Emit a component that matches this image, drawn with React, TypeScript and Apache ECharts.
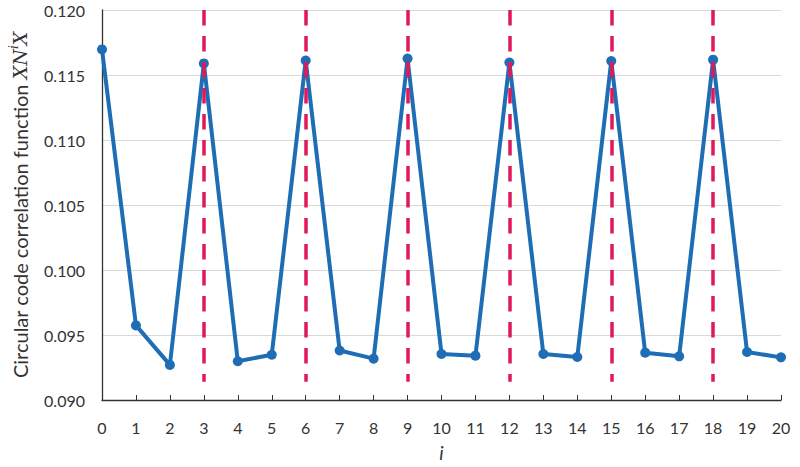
import React, { useEffect, useRef } from "react";
import * as echarts from "echarts";

const xValues = [0, 1, 2, 3, 4, 5, 6, 7, 8, 9, 10, 11, 12, 13, 14, 15, 16, 17, 18, 19, 20];
const corrValues = [
  0.11697, 0.09574, 0.0927, 0.11589, 0.09298, 0.09348, 0.11611, 0.09381, 0.09318, 0.11626,
  0.09354, 0.09341, 0.11596, 0.09354, 0.09331, 0.11608, 0.09364, 0.09336, 0.11618, 0.09369,
  0.09328,
];
const dividerX = [3, 6, 9, 12, 15, 18];
const dividerRange = [0.0914, 0.12];
const yTickMin = 0.09;
const yTickMax = 0.12;
const yTickStep = 0.005;

const FONT = "Lato";

export default function App() {
  const ref = useRef<HTMLDivElement>(null);
  useEffect(() => {
    if (!ref.current) return;
    const chart = echarts.init(ref.current, undefined, { renderer: "svg" });
    chart.setOption({
      animation: false,
      backgroundColor: "#ffffff",
      grid: { left: 97, right: 19, top: 10, bottom: 61 },
      xAxis: {
        type: "value",
        min: 0,
        max: 20,
        interval: 1,
        name: "i",
        nameLocation: "middle",
        nameGap: 43,
        nameTextStyle: { fontFamily: FONT, fontSize: 19, fontStyle: "italic", color: "#333" },
        axisLine: { show: true, lineStyle: { color: "#333", width: 1.3 } },
        axisTick: { show: true, inside: true, length: 5, lineStyle: { color: "#333" } },
        axisLabel: { fontFamily: FONT, fontSize: 16, color: "#333", margin: 19 },
        splitLine: { show: false },
      },
      yAxis: {
        type: "value",
        min: yTickMin,
        max: yTickMax,
        interval: yTickStep,
        name: "Circular code correlation function {m|X}{m|N}{s|i}{m|X}",
        nameLocation: "middle",
        nameGap: 70,
        nameTextStyle: {
          fontFamily: FONT,
          fontSize: 20,
          color: "#333",
          rich: {
            m: { fontFamily: "DejaVu Serif", fontStyle: "italic", fontSize: 19, color: "#333", lineHeight: 24 },
            s: { fontFamily: "DejaVu Serif", fontStyle: "italic", fontSize: 12, color: "#333", verticalAlign: "top", lineHeight: 24 },
          },
        },
        axisLine: { show: true, lineStyle: { color: "#333", width: 1.3 } },
        axisTick: { show: false },
        axisLabel: {
          fontFamily: FONT,
          fontSize: 16,
          color: "#333",
          margin: 17,
          formatter: (v: number) => v.toFixed(3),
        },
        splitLine: { show: true, lineStyle: { color: "#d9d9d9", width: 1 } },
      },
      series: [
        {
          type: "line",
          data: xValues.map((x, i) => [x, corrValues[i]]),
          symbol: "circle",
          symbolSize: 10,
          lineStyle: { color: "#1f6db4", width: 4 },
          itemStyle: { color: "#1f6db4" },
          z: 2,
        },
        {
          type: "line",
          data: [],
          z: 5,
          markLine: {
            silent: true,
            symbol: "none",
            label: { show: false },
            lineStyle: { color: "#e01a5a", width: 3.5, type: [15.5, 10.5] },
            data: dividerX.map((x) => [
              { coord: [x, dividerRange[1]] },
              { coord: [x, dividerRange[0]] },
            ]),
          },
        },
      ],
    });
    return () => chart.dispose();
  }, []);
  return (
    <div
      ref={ref}
      style={{ position: "absolute", left: 0, top: 0, width: 800, height: 467 }}
    />
  );
}
